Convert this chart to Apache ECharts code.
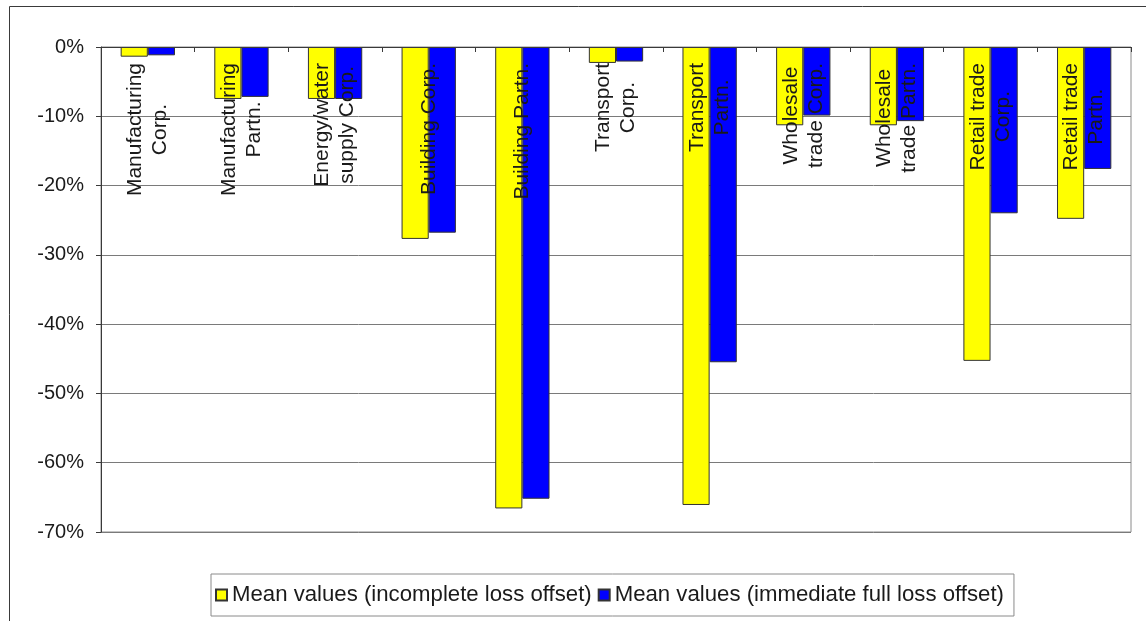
<!DOCTYPE html>
<html>
<head>
<meta charset="utf-8">
<script src="https://cdn.jsdelivr.net/npm/echarts@6/dist/echarts.min.js"></script>
<style>
  html, body { margin: 0; padding: 0; background: #fff; }
  #chart { width: 1146px; height: 621px; }
</style>
</head>
<body>
<div id="chart"></div>
<script>
// Sector / legal-form categories (two-line labels)
const categories = [
  'Manufacturing\nCorp.',
  'Manufacturing\nPartn.',
  'Energy/water\nsupply Corp.',
  'Building Corp.',
  'Building Partn.',
  'Transport\nCorp.',
  'Transport\nPartn.',
  'Wholesale\ntrade Corp.',
  'Wholesale\ntrade Partn.',
  'Retail trade\nCorp.',
  'Retail trade\nPartn.'
];

// Mean values in percent
const incompleteLossOffset = [-1.4, -7.5, -7.5, -27.7, -66.6, -2.3, -66.1, -11.3, -11.3, -45.3, -24.8];
const immediateFullLossOffset = [-1.2, -7.2, -7.5, -26.8, -65.2, -2.1, -45.5, -9.9, -10.7, -24.0, -17.6];

const seriesNames = [
  'Mean values (incomplete loss offset)',
  'Mean values (immediate full loss offset)'
];

const yTicks = { min: -70, max: 0, step: 10 };

const FONT = "'Liberation Sans', Arial, sans-serif";

const chart = echarts.init(document.getElementById('chart'), null, { renderer: 'canvas' });

chart.setOption({
  animation: false,
  backgroundColor: '#ffffff',
  textStyle: { fontFamily: FONT },
  graphic: [{
    type: 'rect',
    silent: true,
    z: 0,
    shape: { x: 9.5, y: 6.5, width: 1300, height: 800 },
    style: { fill: 'none', stroke: '#3a3a3a', lineWidth: 1 }
  }],
  grid: {
    left: 101, right: 15, top: 47, bottom: 89,
    containLabel: false,
    outerBoundsMode: 'none',
    show: true,
    borderColor: '#8a8a8a',
    borderWidth: 1,
    backgroundColor: 'transparent'
  },
  legend: {
    data: seriesNames,
    left: 211,
    top: 574,
    orient: 'horizontal',
    padding: [10, 10, 10, 4],
    itemGap: 6,
    itemWidth: 11,
    itemHeight: 11,
    icon: 'rect',
    borderColor: '#8a8a8a',
    borderWidth: 1,
    textStyle: { fontFamily: FONT, fontSize: 22.2, color: '#1a1a1a' }
  },
  xAxis: {
    type: 'category',
    position: 'top',
    data: categories,
    z: 10,
    axisLine: { onZero: false, lineStyle: { color: '#3a3a3a', width: 1 } },
    axisTick: { show: true, inside: true, length: 5, lineStyle: { color: '#3a3a3a' } },
    splitLine: { show: false },
    axisLabel: {
      inside: true,
      interval: 0,
      rotate: -90,
      margin: 16,
      formatter: function (v) {
        return v.split('\n').map(function (s) { return '{c|' + s + '}'; }).join('\n');
      },
      rich: {
        c: { align: 'center', fontFamily: FONT, fontSize: 21, lineHeight: 25, color: '#1a1a1a' }
      }
    }
  },
  yAxis: {
    type: 'value',
    min: yTicks.min,
    max: yTicks.max,
    interval: yTicks.step,
    axisLine: { show: true, lineStyle: { color: '#3a3a3a', width: 1 } },
    axisTick: { show: true, length: 5, lineStyle: { color: '#3a3a3a' } },
    splitLine: { show: true, lineStyle: { color: '#7a7a7a', width: 1 } },
    axisLabel: {
      margin: 17,
      fontFamily: FONT,
      fontSize: 20,
      color: '#1a1a1a',
      formatter: function (v) { return v + '%'; }
    }
  },
  series: [
    {
      name: seriesNames[0],
      type: 'bar',
      data: incompleteLossOffset,
      barGap: '0%',
      barCategoryGap: '42%',
      itemStyle: { color: '#ffff00', borderColor: '#333333', borderWidth: 1 }
    },
    {
      name: seriesNames[1],
      type: 'bar',
      data: immediateFullLossOffset,
      barGap: '0%',
      barCategoryGap: '42%',
      itemStyle: { color: '#0000ff', borderColor: '#333333', borderWidth: 1 }
    }
  ]
});
</script>
</body>
</html>
